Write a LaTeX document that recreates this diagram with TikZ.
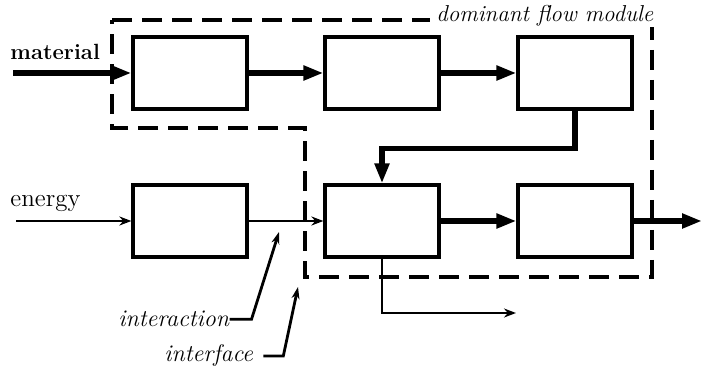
\documentclass[tikz,border=0pt]{standalone}
\usepackage{amsmath}
\usepackage{tikz}
\usetikzlibrary{arrows.meta}

\begin{document}
\begin{tikzpicture}[x=0.5pt,y=-0.5pt]
        \tikzstyle{every node}+=[inner sep=0pt]
        \tikzstyle{unit}=[draw=black, fill=white, line width=1.6pt, minimum width=57pt, minimum height=36pt]
        \tikzstyle{heavy}=[black, line width=2.6pt, -{Triangle[length=10pt,width=7pt]}]
        \tikzstyle{light}=[black, line width=1.1pt, -{Stealth[length=6pt,width=4.5pt]}]
        \tikzstyle{boundary}=[black, line width=1.8pt, dash pattern=on 10pt off 5pt]
        \tikzstyle{pointer}=[black, line width=1.4pt, -{Stealth[length=6pt,width=4pt]}]
        \tikzstyle{tag}=[font=\fontsize{12}{14}\selectfont\itshape]
        \useasboundingbox (0,0) rectangle (703,369);
        % module boundary
        \draw [boundary] (112,20) -- (652,20) -- (652,277) -- (305,277) -- (305,128) -- (112,128) -- cycle;
        \node [font=\fontsize{11.5}{14}\selectfont\itshape, fill=white, inner xsep=3pt, anchor=base west] (dfm) at (430,22) {dominant flow module};
        % units
        \node [unit] (u1) at (190,73) {};
        \node [unit] (u2) at (382,73) {};
        \node [unit] (u3) at (575,73) {};
        \node [unit] (u4) at (190,221) {};
        \node [unit] (u5) at (382,221) {};
        \node [unit] (u6) at (575,221) {};
        % inputs and outputs
        \node [anchor=base west, font=\fontsize{11}{13}\selectfont\bfseries] (mat) at (10,60) {material};
        \node [anchor=base west, font=\fontsize{12.5}{15}\selectfont] (en) at (10,207) {energy};
        \coordinate (matin) at (13,73);
        \coordinate (enin) at (16,221);
        \coordinate (out) at (702,221);
        \coordinate (side) at (516,313);
        % material flow
        \draw [heavy] (matin) -- (u1);
        \draw [heavy] (u1) -- (u2);
        \draw [heavy] (u2) -- (u3);
        \draw [heavy] (u3.south) -- ++(0,38) -| (u5.north);
        \draw [heavy] (u5) -- (u6);
        \draw [heavy] (u6) -- (out);
        % energy flow
        \draw [light] (enin) -- (u4);
        \draw [light] (u4) -- (u5);
        \draw [light] (u5.south) |- (side);
        % labels
        \node [tag, anchor=base west] (act) at (118,327) {interaction};
        \node [tag, anchor=base west] (face) at (164,362) {interface};
        \coordinate (acttip) at (279,232);
        \coordinate (facetip) at (298,287);
        \draw [pointer] (act.east) -- ++(22,0) -- (acttip);
        \draw [pointer] ([xshift=5pt]face.east) -- ++(20,0) -- (facetip);
    \end{tikzpicture}
\end{document}
